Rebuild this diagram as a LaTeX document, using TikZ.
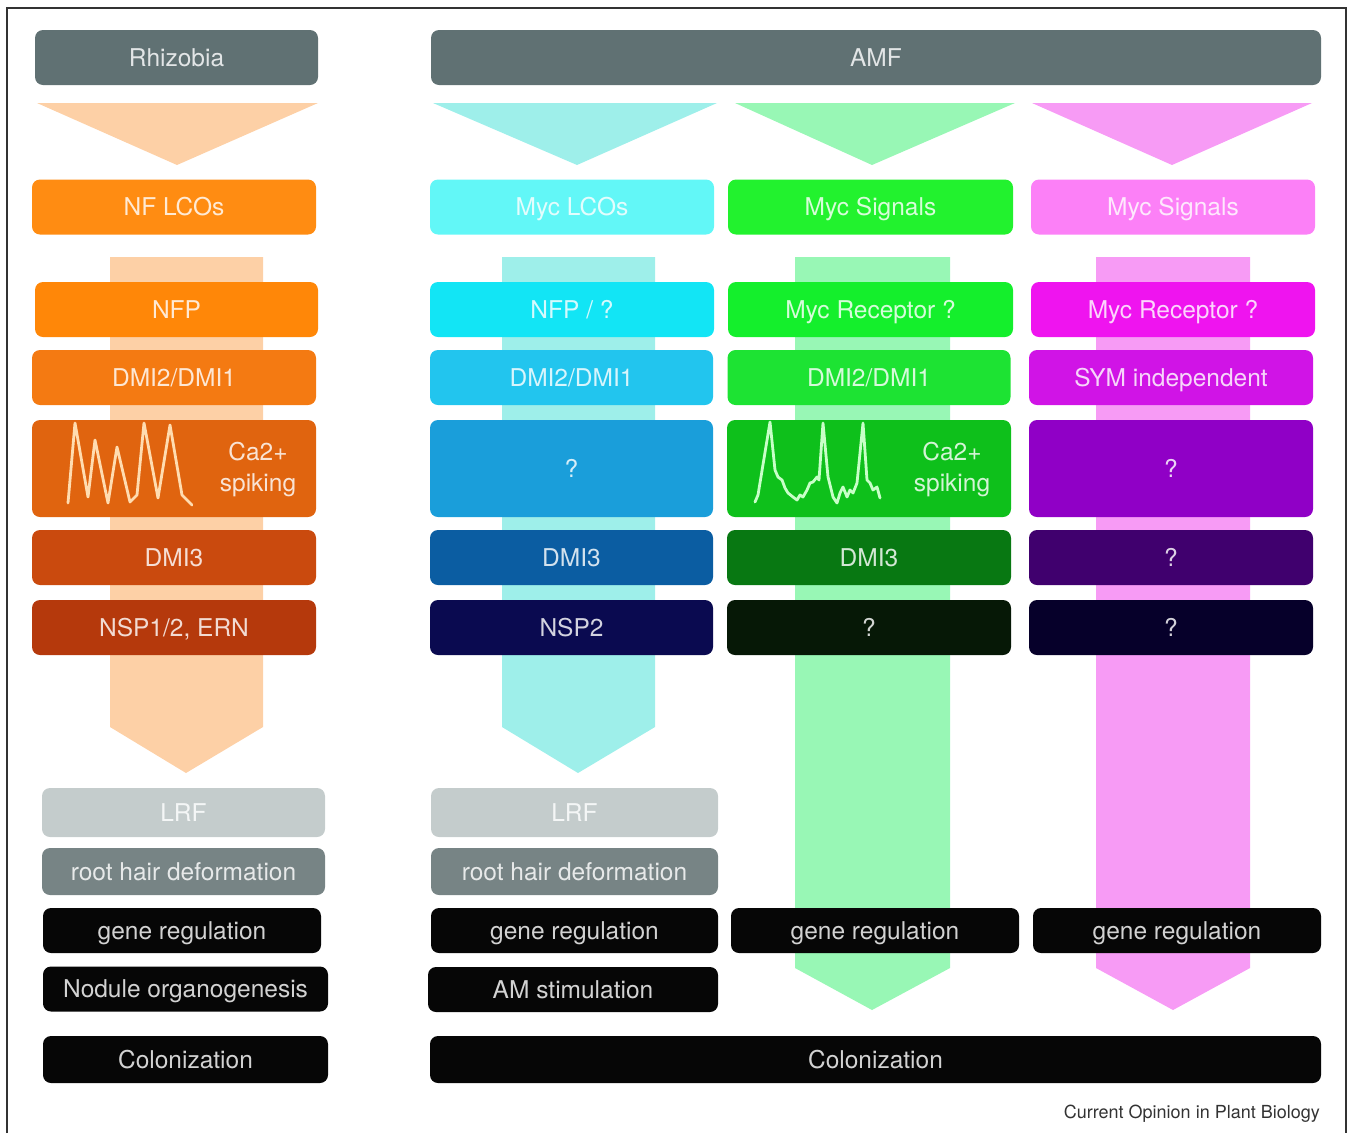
\documentclass[tikz,border=0pt]{standalone}
\usepackage{fontspec}
\setmainfont{TeX Gyre Heros}
\definecolor{hdr}{HTML}{607173}
\definecolor{peach}{HTML}{FDD0A6}
\definecolor{aqua}{HTML}{9EEFEA}
\definecolor{mint}{HTML}{98F7B5}
\definecolor{rose}{HTML}{F79BF5}
\definecolor{orA}{HTML}{FF8C12}
\definecolor{orB}{HTML}{FF8708}
\definecolor{orC}{HTML}{F47A12}
\definecolor{orD}{HTML}{E0640F}
\definecolor{orE}{HTML}{CA4A0E}
\definecolor{orF}{HTML}{B5390C}
\definecolor{cyA}{HTML}{62F7F7}
\definecolor{cyB}{HTML}{12E5F5}
\definecolor{cyC}{HTML}{22C5EE}
\definecolor{cyD}{HTML}{1A9EDA}
\definecolor{cyE}{HTML}{0B5DA2}
\definecolor{cyF}{HTML}{0A0A50}
\definecolor{grA}{HTML}{22F22E}
\definecolor{grB}{HTML}{14EF2C}
\definecolor{grC}{HTML}{1DE333}
\definecolor{grD}{HTML}{0EC01B}
\definecolor{grE}{HTML}{087812}
\definecolor{grF}{HTML}{061806}
\definecolor{pkA}{HTML}{FC80F7}
\definecolor{pkB}{HTML}{EF14EF}
\definecolor{pkC}{HTML}{D014E6}
\definecolor{pkD}{HTML}{9000C6}
\definecolor{pkE}{HTML}{40006E}
\definecolor{pkF}{HTML}{06002A}
\definecolor{lrf}{HTML}{C4CCCC}
\definecolor{rhd}{HTML}{778485}
\definecolor{blk}{HTML}{060606}
\definecolor{spkA}{HTML}{FFDCB0}
\definecolor{spkC}{HTML}{C8FFC8}
\tikzset{stage/.style={rectangle,rounded corners=8pt,fill=#1,text=#1!18!white,minimum width=284pt,minimum height=55pt,inner sep=0pt,text height=17.6pt,text depth=0pt,font=\fontsize{24.5}{29}\selectfont}}
\tikzstyle{catext}=[align=center,inner sep=0pt,font=\fontsize{24.5}{31}\selectfont]
\tikzstyle{spike}=[line width=2.8pt,line join=round,line cap=round]

\begin{document}
\begin{tikzpicture}[x=1pt,y=-1pt]
\useasboundingbox (0,0) rectangle (1351,1133);
\draw[line width=2pt,black!80] (7,1133) -- (7,8) -- (1346,8) -- (1346,1133);
% funnels
\fill[peach] (37,103) -- (318,103) -- (177,165) -- cycle;
\fill[aqua] (433,103) -- (717,103) -- (577,165) -- cycle;
\fill[mint] (735,103) -- (1015,103) -- (872,165) -- cycle;
\fill[rose] (1032,103) -- (1312,103) -- (1172,165) -- cycle;
% shafts
\fill[peach] (110,257) -- (263,257) -- (263,727) -- (186,773) -- (110,727) -- cycle;
\fill[aqua] (502,257) -- (655,257) -- (655,727) -- (578,773) -- (502,727) -- cycle;
\fill[mint] (795,257) -- (950,257) -- (950,968) -- (872,1010) -- (795,968) -- cycle;
\fill[rose] (1096,257) -- (1250,257) -- (1250,968) -- (1173,1010) -- (1096,968) -- cycle;
% rhizobia
\node[stage=hdr, minimum width=283pt] at (176.5,57.5) (rhiz) {Rhizobia};
\node[stage=orA] at (174,207) (nflco) {NF LCOs};
\node[stage=orB, minimum width=283pt] at (176.5,309.5) (nfp) {NFP};
\node[stage=orC] at (174,377.5) (dmiA) {DMI2/DMI1};
\node[stage=orD, minimum height=97pt] at (174,468.5) (caA) {};
\node[stage=orE] at (174,557.5) (dmiiiA) {DMI3};
\node[stage=orF] at (174,627.5) (nspA) {NSP1/2, ERN};
\node[stage=lrf, minimum width=283pt, minimum height=49pt] at (183.5,812.5) (lrfA) {LRF};
\node[stage=rhd, minimum width=283pt, minimum height=47pt] at (183.5,871.5) (rhdA) {root hair deformation};
\node[stage=blk, minimum width=278pt, minimum height=45pt] at (182,930.5) (geneA) {gene regulation};
\node[stage=blk, minimum width=285pt, minimum height=45pt] at (185.5,989) (nodA) {Nodule organogenesis};
\node[stage=blk, minimum width=285pt, minimum height=47pt] at (185.5,1059.5) (colA) {Colonization};
% myc lcos
\node[stage=hdr, minimum width=890pt] at (876,57.5) (amf) {AMF};
\node[stage=cyA] at (572,207) (myclco) {Myc LCOs};
\node[stage=cyB] at (572,309.5) (nfpq) {NFP / ?};
\node[stage=cyC, minimum width=283pt] at (571.5,377.5) (dmiB) {DMI2/DMI1};
\node[stage=cyD, minimum width=283pt, minimum height=97pt] at (571.5,468.5) (caB) {?};
\node[stage=cyE, minimum width=283pt] at (571.5,557.5) (dmiiiB) {DMI3};
\node[stage=cyF, minimum width=283pt] at (571.5,627.5) (nspB) {NSP2};
\node[stage=lrf, minimum width=287pt, minimum height=49pt] at (574.5,812.5) (lrfB) {LRF};
\node[stage=rhd, minimum width=287pt, minimum height=47pt] at (574.5,871.5) (rhdB) {root hair deformation};
\node[stage=blk, minimum width=287pt, minimum height=45pt] at (574.5,930.5) (geneB) {gene regulation};
\node[stage=blk, minimum width=290pt, minimum height=45pt] at (573,989.5) (amstim) {AM stimulation};
\node[stage=blk, minimum width=891pt, minimum height=47pt] at (875.5,1059.5) (colB) {Colonization};
% myc signals, sym dependent
\node[stage=grA, minimum width=285pt] at (870.5,207) (mycsigC) {Myc Signals};
\node[stage=grB, minimum width=285pt] at (870.5,309.5) (mycrecC) {Myc Receptor ?};
\node[stage=grC, minimum width=283pt] at (869,377.5) (dmiC) {DMI2/DMI1};
\node[stage=grD, minimum height=97pt] at (869,468.5) (caC) {};
\node[stage=grE] at (869,557.5) (dmiiiC) {DMI3};
\node[stage=grF] at (869,627.5) (qC) {?};
\node[stage=blk, minimum width=288pt, minimum height=45pt] at (875,930.5) (geneC) {gene regulation};
% myc signals, sym independent
\node[stage=pkA] at (1173,207) (mycsigD) {Myc Signals};
\node[stage=pkB] at (1173,309.5) (mycrecD) {Myc Receptor ?};
\node[stage=pkC] at (1171,377.5) (symD) {SYM independent};
\node[stage=pkD, minimum height=97pt] at (1171,468.5) (qD1) {?};
\node[stage=pkE] at (1171,557.5) (qD2) {?};
\node[stage=pkF] at (1171,627.5) (qD3) {?};
\node[stage=blk, minimum width=288pt, minimum height=45pt] at (1177,930.5) (geneD) {gene regulation};
% calcium spiking
\node[catext, text=orD!18!white] at (258,470) (catxtA) {Ca2+\\spiking};
\node[catext, text=grD!18!white] at (952,470) (catxtC) {Ca2+\\spiking};
\draw[spike, draw=spkA] (68,503) -- (75,423) -- (88,497) -- (95,440) -- (108,503) -- (117,447) -- (130,502) -- (137,495) -- (144,423) -- (158,498) -- (170,425) -- (182,495) -- (192,505);
\draw[spike, draw=spkC] (755,502) -- (758,495) -- (770,422) -- (775,470) -- (778,477) -- (782,480) -- (785,488) -- (788,493) -- (793,497) -- (797,500) -- (800,495) -- (803,497) -- (807,490) -- (810,483) -- (813,482) -- (817,477) -- (819,480) -- (823,423) -- (828,477) -- (833,497) -- (837,503) -- (840,493) -- (843,487) -- (847,497) -- (850,490) -- (853,493) -- (857,483) -- (863,423) -- (867,480) -- (870,483) -- (873,490) -- (877,487) -- (880,498);
\node[anchor=east, text=black!80, inner sep=0pt, font=\fontsize{18}{22}\selectfont] at (1320,1114) (src) {Current Opinion in Plant Biology};
\end{tikzpicture}
\end{document}
